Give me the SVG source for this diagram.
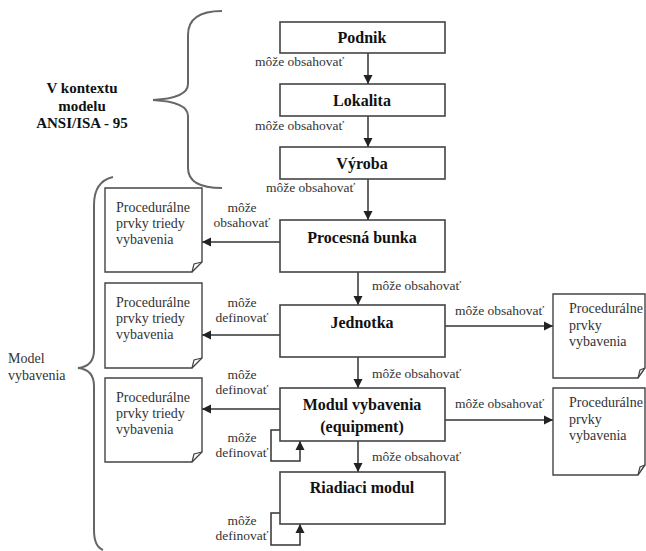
<svg xmlns="http://www.w3.org/2000/svg" width="646" height="551" viewBox="0 0 646 551" font-family="Liberation Serif, serif">
<defs>
<marker id="ah" markerWidth="10" markerHeight="10" refX="9" refY="5" orient="auto" markerUnits="userSpaceOnUse">
<path d="M0,0.5 L9,5 L0,9.5 Z" fill="#222"/>
</marker>
<style>
.box{fill:#fff;stroke:#444;stroke-width:1.6}
.note{fill:#fff;stroke:#444;stroke-width:1.4}
.fold{fill:none;stroke:#444;stroke-width:1.2}
.ln{fill:none;stroke:#333;stroke-width:1.5}
.br{fill:none;stroke:#666;stroke-width:2}
.bt{font-weight:bold;font-size:16px;fill:#111;text-anchor:middle}
.lt{font-weight:bold;font-size:15px;fill:#111;text-anchor:middle}
.nt{font-size:14px;fill:#333}
.lb{font-size:13.5px;fill:#333}
.lc{font-size:13.5px;fill:#333;text-anchor:middle}
</style>
</defs>
<rect width="646" height="551" fill="#fff"/>

<g id="braces">
<path class="br" d="M222,11 C200,11 188,18 188,35 L188,84 C188,95 172,99 153,100 C172,101 188,105 188,116 L188,168 C188,182 200,188 222,188"/>
<path class="br" d="M113,177 C100,180 94,190 94,205 L94,350 C94,362 88,367 78,368 C88,369 94,374 94,386 L94,530 C94,542 98,548 103,550"/>
</g>
<g id="side-labels">
<text class="lt" x="82" y="93">V kontextu</text>
<text class="lt" x="82" y="111">modelu</text>
<text class="lt" x="82" y="128">ANSI/ISA - 95</text>
<text class="nt" x="8" y="363">Model</text>
<text class="nt" x="8" y="380">vybavenia</text>
</g>

<g id="connectors">
<line class="ln" x1="368" y1="53" x2="368" y2="84" marker-end="url(#ah)"/>
<line class="ln" x1="368" y1="116" x2="368" y2="147" marker-end="url(#ah)"/>
<line class="ln" x1="368" y1="179" x2="368" y2="220" marker-end="url(#ah)"/>
<line class="ln" x1="358" y1="272" x2="358" y2="305" marker-end="url(#ah)"/>
<line class="ln" x1="358" y1="357" x2="358" y2="388" marker-end="url(#ah)"/>
<line class="ln" x1="358" y1="441" x2="358" y2="472" marker-end="url(#ah)"/>
<line class="ln" x1="280" y1="242" x2="202" y2="242" marker-end="url(#ah)"/>
<line class="ln" x1="280" y1="335" x2="202" y2="335" marker-end="url(#ah)"/>
<line class="ln" x1="280" y1="409" x2="202" y2="409" marker-end="url(#ah)"/>
<line class="ln" x1="445" y1="326" x2="553" y2="326" marker-end="url(#ah)"/>
<line class="ln" x1="445" y1="420" x2="553" y2="420" marker-end="url(#ah)"/>
<polyline class="ln" points="280,430 271,430 271,461 300,461 300,441" marker-end="url(#ah)"/>
<polyline class="ln" points="280,513 271,513 271,545 300,545 300,524" marker-end="url(#ah)"/>
<text class="lb" x="255" y="66">môže obsahovať</text>
<text class="lb" x="255" y="130">môže obsahovať</text>
<text class="lb" x="266" y="192">môže obsahovať</text>
<text class="lb" x="372" y="290">môže obsahovať</text>
<text class="lb" x="372" y="378">môže obsahovať</text>
<text class="lb" x="372" y="461">môže obsahovať</text>
<text class="lb" x="455" y="315">môže obsahovať</text>
<text class="lb" x="455" y="408">môže obsahovať</text>
<text class="lc" x="242" y="212">môže</text>
<text class="lc" x="242" y="227">obsahovať</text>
<text class="lc" x="242" y="307">môže</text>
<text class="lc" x="242" y="322">definovať</text>
<text class="lc" x="242" y="379">môže</text>
<text class="lc" x="242" y="394">definovať</text>
<text class="lc" x="242" y="442">môže</text>
<text class="lc" x="242" y="457">definovať</text>
<text class="lc" x="242" y="525">môže</text>
<text class="lc" x="242" y="540">definovať</text>
</g>

<g id="podnik"><rect class="box" x="280" y="22" width="165" height="31"/><text class="bt" x="362" y="43">Podnik</text></g>
<g id="lokalita"><rect class="box" x="280" y="84" width="165" height="32"/><text class="bt" x="362" y="106">Lokalita</text></g>
<g id="vyroba"><rect class="box" x="280" y="147" width="165" height="32"/><text class="bt" x="362" y="169">Výroba</text></g>
<g id="procesna-bunka"><rect class="box" x="280" y="220" width="165" height="52"/><text class="bt" x="362" y="243">Procesná bunka</text></g>
<g id="jednotka"><rect class="box" x="280" y="305" width="165" height="52"/><text class="bt" x="362" y="328">Jednotka</text></g>
<g id="modul-vybavenia"><rect class="box" x="280" y="388" width="165" height="53"/><text class="bt" x="362" y="410">Modul vybavenia</text><text class="bt" x="362" y="432">(equipment)</text></g>
<g id="riadiaci-modul"><rect class="box" x="280" y="472" width="165" height="52"/><text class="bt" x="362" y="493">Riadiaci modul</text></g>

<g id="note-left-1">
<path class="note" d="M105,188 H202 V262 L192,272 H105 Z"/><path class="fold" d="M202,262 L194,264 L192,272"/>
<text class="nt" x="116" y="212">Procedurálne</text><text class="nt" x="116" y="228">prvky triedy</text><text class="nt" x="116" y="244">vybavenia</text>
</g>
<g id="note-left-2">
<path class="note" d="M105,283 H202 V358 L192,368 H105 Z"/><path class="fold" d="M202,358 L194,360 L192,368"/>
<text class="nt" x="116" y="307">Procedurálne</text><text class="nt" x="116" y="323">prvky triedy</text><text class="nt" x="116" y="339">vybavenia</text>
</g>
<g id="note-left-3">
<path class="note" d="M105,378 H202 V452 L192,462 H105 Z"/><path class="fold" d="M202,452 L194,454 L192,462"/>
<text class="nt" x="116" y="402">Procedurálne</text><text class="nt" x="116" y="418">prvky triedy</text><text class="nt" x="116" y="434">vybavenia</text>
</g>
<g id="note-right-1">
<path class="note" d="M553,294 H645 V368 L638,378 H553 Z"/><path class="fold" d="M645,368 L640,370 L638,378"/>
<text class="nt" x="569" y="313">Procedurálne</text><text class="nt" x="569" y="330">prvky</text><text class="nt" x="569" y="346">vybavenia</text>
</g>
<g id="note-right-2">
<path class="note" d="M553,388 H645 V465 L638,475 H553 Z"/><path class="fold" d="M645,465 L640,467 L638,475"/>
<text class="nt" x="569" y="407">Procedurálne</text><text class="nt" x="569" y="424">prvky</text><text class="nt" x="569" y="440">vybavenia</text>
</g>
</svg>
